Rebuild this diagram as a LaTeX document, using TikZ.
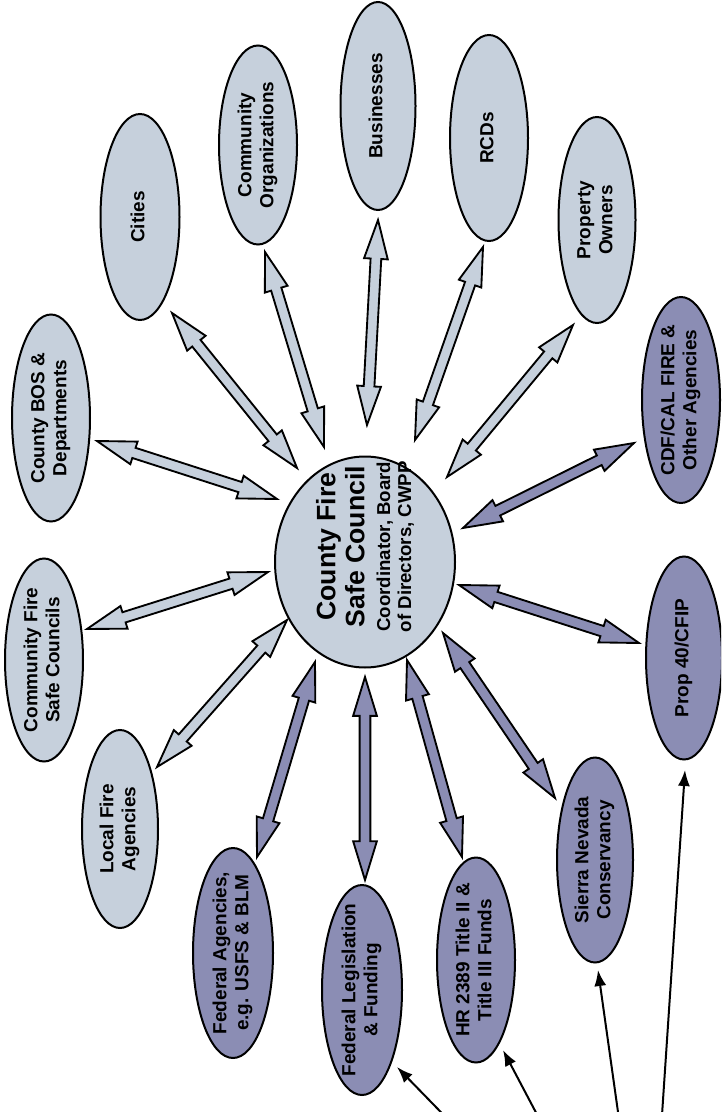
\documentclass[tikz,border=0pt]{standalone}
\usepackage{fontspec}
\setmainfont{Liberation Sans}
\usepackage{graphicx}
\usetikzlibrary{shapes.geometric,shapes.arrows,calc,arrows.meta}
\definecolor{lightfill}{HTML}{C6D0DC}
\definecolor{darkfill}{HTML}{8B8DB4}
\newcommand\rtb[2][0pt]{\makebox[0pt]{\raisebox{\dimexpr-.5\height+#1\relax}[0pt][0pt]{\rotatebox{90}{#2}}}}
\newcommand\rt[1]{\rtb{\begin{tabular}{@{}c@{}}#1\end{tabular}}}
\newcommand\barrow[5]{\path let \p1=($(#2)+(#3)$), \p2=($(#4)+(#5)$),
  \n1={atan2(\y2-\y1,\x2-\x1)}, \n2={veclen(\x2-\x1,\y2-\y1)} in
  node[#1, rotate=\n1, minimum height=\n2] at ($(\p1)!0.5!(\p2)$) {};}
\tikzset{
  sz/.style 2 args={minimum width=#1*0.75pt, minimum height=#2*0.75pt},
  lnode/.style={ellipse, draw=black, line width=1.5pt, fill=lightfill, inner sep=0pt, outer sep=0pt},
  dnode/.style={lnode, fill=darkfill},
  blockL/.style={double arrow, draw=black, line width=1.4pt, fill=lightfill,
    inner xsep=0pt, inner ysep=3.3pt, minimum width=0pt,
    double arrow head extend=4.9pt, double arrow tip angle=34,
    double arrow head indent=0pt},
  blockD/.style={blockL, fill=darkfill},
  feed/.style={draw=black, line width=1.5pt, -{Latex[length=12pt,width=9pt]}}
}
\begin{document}
\begin{tikzpicture}[x=0.75pt,y=-0.75pt, font=\bfseries\fontsize{14.25}{16.5}\selectfont]
\useasboundingbox (0,0) rectangle (721,1112);
\fill[white] (0,0) rectangle (721,1112);
\clip (0,0) rectangle (721,1112);

\node[lnode, sz={180}{211}] (C) at (365,562) {\rtb[8pt]{\hspace{7pt}\parbox{170pt}{\centering
  \fontsize{20}{21.75}\selectfont County Fire\\Safe Council\par\vspace{3.5pt}
  \fontsize{14}{15.75}\selectfont Coordinator, Board\\of Directors, CWPP\par}}};

\node[lnode, sz={78}{207}] (bos) at (51,418) {\rt{County BOS \&\\Departments}};
\node[lnode, sz={78}{203}] (cfsc) at (44,660) {\rt{Community Fire\\Safe Councils}};
\node[lnode, sz={76}{198}] (lfa) at (120,829) {\rt{Local Fire\\Agencies}};
\node[dnode, sz={80}{210}] (fedag) at (233,953) {\rt{Federal Agencies,\\e.g. USFS \& BLM}};
\node[dnode, sz={80}{210}] (fedleg) at (362,990) {\rt{Federal Legislation\\\& Funding}};
\node[dnode, sz={78}{205}] (hr) at (476,960) {\rt{HR 2389 Title II \&\\Title III Funds}};
\node[dnode, sz={76}{205}] (snc) at (595,860) {\rt{Sierra Nevada\\Conservancy}};
\node[dnode, sz={76}{203}] (prop) at (684,658) {\rt{Prop 40/CFIP}};
\node[dnode, sz={78}{206}] (cdf) at (681,400) {\rt{CDF/CAL FIRE \&\\Other Agencies}};
\node[lnode, sz={77}{206}] (po) at (597,220) {\rt{Property\\Owners}};
\node[lnode, sz={78}{206}] (rcd) at (489,138) {\rt{RCDs}};
\node[lnode, sz={75}{208}] (bus) at (378,106) {\rt{Businesses}};
\node[lnode, sz={78}{199}] (co) at (258,145) {\rt{Community\\Organizations}};
\node[lnode, sz={79}{206}] (cit) at (140,217) {\rt{Cities}};

\barrow{blockL}{C}{-88,-63}{bos}{46,23}
\barrow{blockL}{C}{-97,10}{cfsc}{43,-31}
\barrow{blockL}{C}{-78,58}{lfa}{37,-62}
\barrow{blockD}{C}{-50,100}{fedag}{24,-96}
\barrow{blockD}{C}{0,115}{fedleg}{3,-110}
\barrow{blockD}{C}{42,98}{hr}{-14,-103}
\barrow{blockD}{C}{78,71}{snc}{-40,-62}
\barrow{blockD}{C}{94,23}{prop}{-45,-15}
\barrow{blockD}{C}{98,-34}{cdf}{-47,43}
\barrow{blockL}{C}{82,-85}{po}{-24,105}
\barrow{blockL}{C}{50,-122}{rcd}{-6,109}
\barrow{blockL}{C}{2,-137}{bus}{0,114}
\barrow{blockL}{C}{-41,-115}{co}{7,107}
\barrow{blockL}{C}{-68,-94}{cit}{32,96}

\coordinate (src) at (648,1325);
\draw[feed] (src) -- ($(fedleg)+(35,77)$);
\draw[feed] (src) -- ($(hr)+(27,90)$);
\draw[feed] (src) -- ($(snc)+(3,110)$);
\draw[feed] (src) -- ($(prop)+(1,112)$);
\end{tikzpicture}
\end{document}
